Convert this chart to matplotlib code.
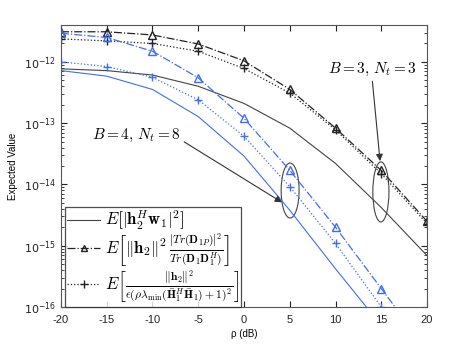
import numpy as np
import matplotlib
matplotlib.use("Agg")
import matplotlib.pyplot as plt
from matplotlib.patches import Ellipse
from matplotlib.lines import Line2D
from matplotlib.ticker import FixedLocator, NullFormatter
from matplotlib.font_manager import FontProperties

plt.rcParams['mathtext.fontset'] = 'dejavusans'
plt.rcParams['font.family'] = ['Liberation Sans', 'DejaVu Sans']

rho_db = [-20, -15, -10, -5, 0, 5, 10, 15, 20]

# B = 3, Nt = 3 (black)
b3_exact = [7.7e-13, 7.2e-13, 6.1e-13, 4.0e-13, 2.1e-13, 8.3e-14, 2.2e-14, 4.2e-15, 6.9e-16]
b3_tri = [3.1e-12, 3.1e-12, 2.75e-12, 1.96e-12, 1.04e-12, 3.55e-13, 8.3e-14, 1.69e-14, 2.5e-15]
b3_plus = [2.37e-12, 2.2e-12, 2.0e-12, 1.49e-12, 7.8e-13, 3.1e-13, 7.8e-14, 1.5e-14, 2.3e-15]

# B = 4, Nt = 8 (blue)
b4_exact = [7.2e-13, 5.85e-13, 3.55e-13, 1.28e-13, 2.9e-14, 3.8e-15, 4.2e-16, 5.0e-17, 6.0e-18]
b4_tri = [2.93e-12, 2.5e-12, 1.49e-12, 5.5e-13, 1.2e-13, 1.7e-14, 2.0e-15, 2.0e-16, 2.0e-17]
b4_plus = [1.0e-12, 8.4e-13, 5.6e-13, 2.4e-13, 6.1e-14, 9.2e-15, 1.09e-15, 1.0e-16, 1.0e-17]

xticks = [-20, -15, -10, -5, 0, 5, 10, 15, 20]
yexps = [-16, -15, -14, -13, -12]

BLACK = '#222222'
BLUE = '#3f6ef5'

fig = plt.figure(figsize=(4.71, 3.5), dpi=100)
ax = fig.add_axes([0.1295, 0.1229, 0.7771, 0.8057])

ax.plot(rho_db, b3_exact, '-', color='#444444', lw=0.8)
ax.plot(rho_db, b3_tri, '-.', color=BLACK, lw=0.9, marker='^', mfc='none', ms=5.5, mew=1.0)
ax.plot(rho_db, b3_plus, ':', color=BLACK, lw=0.9, marker='+', ms=6, mew=1.0)

ax.plot(rho_db, b4_exact, '-', color=BLUE, lw=0.8)
ax.plot(rho_db, b4_tri, '-.', color=BLUE, lw=0.9, marker='^', mfc='none', ms=5.5, mew=1.0)
ax.plot(rho_db, b4_plus, ':', color=BLUE, lw=0.9, marker='+', ms=6, mew=1.0)

ax.set_yscale('log')
ax.set_xlim(-20, 20)
ax.set_ylim(1e-16, 4e-12)
ax.set_xticks(xticks)
ax.set_xticklabels([str(t) for t in xticks])
ax.yaxis.set_major_locator(FixedLocator([10.0 ** e for e in yexps]))
ax.set_yticklabels(['$10^{%d}$' % e for e in yexps])
minor = [m * 10.0 ** e for e in range(-16, -11) for m in range(2, 10) if m * 10.0 ** e <= 4e-12]
ax.yaxis.set_minor_locator(FixedLocator(minor))
ax.yaxis.set_minor_formatter(NullFormatter())
ax.tick_params(direction='in', which='both', top=True, right=True, labelsize=8, colors='#222222')
ax.tick_params(which='major', length=4)
ax.tick_params(which='minor', length=2)
ax.tick_params(axis='x', pad=6)
for s in ax.spines.values():
    s.set_color('#555555')
    s.set_linewidth(0.8)

ax.set_xlabel('ρ (dB)', fontsize=7, labelpad=3)
ax.set_ylabel('Expected Value', fontsize=7)

# Ellipses (in axes coordinates)
ax.add_patch(Ellipse((0.626, 0.413), 0.049, 0.195, transform=ax.transAxes,
                     fill=False, ec='#444444', lw=0.8))
ax.add_patch(Ellipse((0.874, 0.408), 0.044, 0.213, transform=ax.transAxes,
                     fill=False, ec='#444444', lw=0.8))

ax.annotate('$B=4,\\,N_t=8$', xy=(4.15, 5.1e-15), xytext=(-11.7, 6.4e-14),
            ha='center', va='center', fontsize=11, math_fontfamily='cm',
            arrowprops=dict(arrowstyle='-|>', color='#333333', lw=0.8,
                            shrinkA=0, shrinkB=0, mutation_scale=10,
                            relpos=(1.0, 0.2)))
ax.annotate('$B=3,\\,N_t=3$', xy=(14.87, 2.4e-14), xytext=(14.0, 7.4e-13),
            ha='center', va='center', fontsize=11, math_fontfamily='cm',
            arrowprops=dict(arrowstyle='-|>', color='#333333', lw=0.8,
                            shrinkA=0, shrinkB=0, mutation_scale=10,
                            relpos=(0.5, 0.0)))

handles = [
    Line2D([], [], ls='-', color='#444444', lw=0.8),
    Line2D([], [], ls='-.', color=BLACK, lw=0.9, marker='^', mfc='none', ms=5, mew=1.0),
    Line2D([], [], ls=':', color=BLACK, lw=0.9, marker='+', ms=6, mew=1.0),
]
labels = [
    r'$E\left[|\mathbf{h}_2^H\mathbf{w}_1|^2\right]$',
    r'$E\left[\|\mathbf{h}_2\|^2\,\frac{|Tr(\mathbf{D}_{1P})|^2}{Tr(\mathbf{D}_1\mathbf{D}_1^H)}\right]$',
    r'$E\left[\frac{\|\mathbf{h}_2\|^2}{\epsilon(\rho\lambda_{\min}(\bar{\mathbf{H}}_1^H\bar{\mathbf{H}}_1)+1)^2}\right]$',
]
legprop = FontProperties(family='DejaVu Sans', size=12, math_fontfamily='cm')
leg = ax.legend(handles, labels, loc='lower left', bbox_to_anchor=(0.012, 0.0),
                prop=legprop, frameon=True, fancybox=False, edgecolor='#222222',
                handlelength=2.0, handletextpad=0.3, borderpad=0.1,
                labelspacing=0.0, borderaxespad=0.0)
leg.get_frame().set_linewidth(0.9)

fig.savefig('out.png', dpi=100)
